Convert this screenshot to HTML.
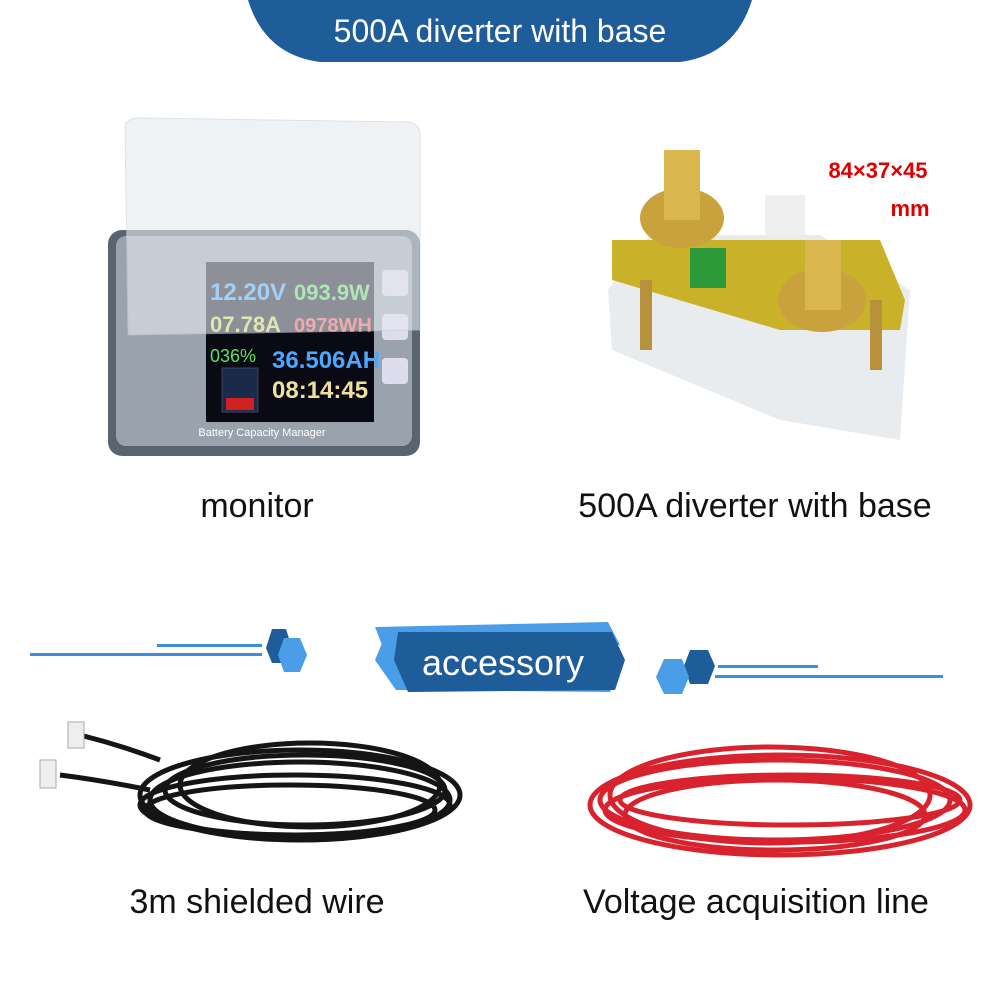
<!DOCTYPE html>
<html><head><meta charset="utf-8"><style>
html,body{margin:0;padding:0;background:#fff;}
svg{display:block}
text{font-family:"Liberation Sans","Noto Sans CJK SC",sans-serif}
</style></head><body>
<svg width="1000" height="1000" viewBox="0 0 1000 1000" xmlns="http://www.w3.org/2000/svg">
<path d="M248 0 H752 Q735 55 680 62 H320 Q265 55 248 0 Z" fill="#1f5c9a"/>
<text x="500" y="42" font-size="32" fill="#fff" text-anchor="middle">500A diverter with base</text>

<rect x="108" y="230" width="312" height="226" rx="14" fill="#5a6470"/>
<rect x="116" y="236" width="296" height="210" rx="10" fill="#9aa3ad"/>
<rect x="206" y="262" width="168" height="160" fill="#0a0a14"/>
<text x="210" y="300" font-size="24" font-weight="bold" fill="#4aa8ff">12.20V</text>
<text x="294" y="300" font-size="22" font-weight="bold" fill="#5fe05f">093.9W</text>
<text x="210" y="332" font-size="22" font-weight="bold" fill="#d8e050">07.78A</text>
<text x="294" y="332" font-size="20" font-weight="bold" fill="#ff4a4a">0978WH</text>
<text x="210" y="362" font-size="18" fill="#5fe05f">036%</text>
<text x="272" y="368" font-size="24" font-weight="bold" fill="#4aa8ff">36.506AH</text>
<text x="272" y="398" font-size="24" font-weight="bold" fill="#f0e0a0">08:14:45</text>
<rect x="222" y="368" width="36" height="44" fill="#1a2a4a" stroke="#445" />
<rect x="226" y="398" width="28" height="12" fill="#d02020"/>
<rect x="382" y="270" width="26" height="26" rx="4" fill="#dde"/>
<rect x="382" y="314" width="26" height="26" rx="4" fill="#dde"/>
<rect x="382" y="358" width="26" height="26" rx="4" fill="#dde"/>
<text x="262" y="436" font-size="11" fill="#fff" text-anchor="middle">Battery Capacity Manager</text>
<path d="M125 128 Q125 118 140 118 L405 122 Q420 122 420 135 L420 330 L128 335 Z" fill="#e4eaf0" opacity="0.6" stroke="#c8d0da"/>

<path d="M608 290 L650 235 L820 235 L910 290 L900 440 L780 420 L612 350 Z" fill="#e6eaed" opacity="0.9"/>
<path d="M612 240 L880 240 L905 300 L900 330 L780 330 L612 280 Z" fill="#c9b22a"/>
<rect x="640" y="280" width="12" height="70" fill="#b8923a"/>
<rect x="870" y="300" width="12" height="70" fill="#b8923a"/>
<rect x="690" y="248" width="36" height="40" fill="#2c9a3a"/>
<rect x="765" y="195" width="40" height="40" fill="#eee"/>
<ellipse cx="682" cy="218" rx="42" ry="30" fill="#c9a23e"/>
<rect x="664" y="150" width="36" height="70" fill="#d9b64e"/>
<ellipse cx="822" cy="300" rx="44" ry="32" fill="#c9a23e"/>
<rect x="805" y="240" width="36" height="70" fill="#d9b64e"/>
<text x="878" y="178" font-size="22" font-weight="bold" fill="#e00000" text-anchor="middle">84×37×45</text>
<text x="910" y="216" font-size="22" font-weight="bold" fill="#e00000" text-anchor="middle">mm</text>

<text x="257" y="517" font-size="34" fill="#111" text-anchor="middle">monitor</text>
<text x="755" y="517" font-size="34" fill="#111" text-anchor="middle">500A diverter with base</text>

<rect x="30" y="653" width="232" height="3" fill="#3b8fd8"/>
<rect x="157" y="644" width="105" height="3" fill="#3b8fd8"/>
<polygon points="272,629 286,629 292,648 286,663 272,663 266,648" fill="#1f5c9a"/>
<polygon points="284,638 300,638 307,655 300,672 284,672 278,655" fill="#4a9ee8"/>
<polygon points="375,627 608,622 620,645 384,650" fill="#4a9ee8"/>
<polygon points="385,636 600,632 622,668 610,692 396,690 375,660" fill="#4a9ee8"/>
<polygon points="398,632 612,632 625,660 615,690 408,692 394,660" fill="#1f5c9a"/>
<text x="503" y="675" font-size="36" fill="#fff" text-anchor="middle">accessory</text>
<polygon points="690,650 708,650 715,666 708,684 690,684 684,666" fill="#1f5c9a"/>
<polygon points="664,659 682,659 689,677 682,694 664,694 656,677" fill="#4a9ee8"/>
<rect x="718" y="665" width="100" height="3" fill="#3b8fd8"/>
<rect x="715" y="675" width="228" height="3" fill="#3b8fd8"/>

<g fill="none" stroke="#151515" stroke-width="5">
<ellipse cx="300" cy="795" rx="160" ry="45"/>
<ellipse cx="300" cy="800" rx="150" ry="38"/>
<ellipse cx="305" cy="790" rx="140" ry="35"/>
<ellipse cx="295" cy="805" rx="155" ry="30"/>
<ellipse cx="310" cy="785" rx="130" ry="42"/>
<ellipse cx="290" cy="810" rx="145" ry="25"/>
<path d="M80 735 Q120 745 160 760"/>
<path d="M60 775 Q100 780 150 790"/>
</g>
<rect x="68" y="722" width="16" height="26" fill="#eee" stroke="#aaa"/>
<rect x="40" y="760" width="16" height="28" fill="#eee" stroke="#aaa"/>

<g fill="none" stroke="#d8222e" stroke-width="5">
<ellipse cx="780" cy="805" rx="190" ry="50"/>
<ellipse cx="775" cy="800" rx="175" ry="40"/>
<ellipse cx="785" cy="810" rx="180" ry="32"/>
<ellipse cx="770" cy="795" rx="160" ry="48"/>
<ellipse cx="790" cy="800" rx="170" ry="25"/>
<ellipse cx="775" cy="815" rx="150" ry="35"/>
</g>

<text x="257" y="913" font-size="34" fill="#111" text-anchor="middle">3m shielded wire</text>
<text x="756" y="913" font-size="34" fill="#111" text-anchor="middle">Voltage acquisition line</text>
</svg>
</body></html>
